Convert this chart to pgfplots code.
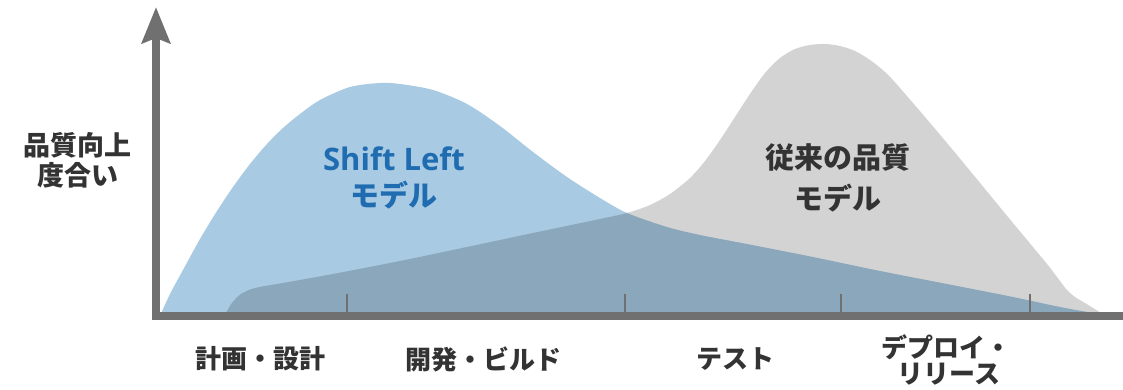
\documentclass[border=0pt]{standalone}
\usepackage{pgfplots}
\pgfplotsset{compat=1.18}
\usepackage{fontspec}
\setmainfont{Noto Sans CJK JP}
\newfontfamily\os{Open Sans}
\usetikzlibrary{arrows.meta}
\definecolor{lblue}{HTML}{A8CAE2}
\definecolor{lgray}{HTML}{D3D3D3}
\definecolor{axgray}{HTML}{707070}
\definecolor{tblue}{HTML}{1F6CB0}
\definecolor{tdark}{HTML}{333333}
\begin{document}
\begin{tikzpicture}
\begin{axis}[
  scale only axis, width=967pt, height=309pt,
  xmin=156, xmax=1123, ymin=0, ymax=309,
  axis lines=left, axis on top, clip=false,
  axis line style={line width=8pt, color=axgray},
  x axis line style={-, line cap=rect},
  y axis line style={line cap=rect, -{Stealth[length=36pt,width=28pt,inset=5pt]}},
  xtick={347,625,841,1030}, xticklabels={},
  ytick=\empty,
  tick align=inside, major tick length=22pt,
  every tick/.style={line width=2.2pt, color=axgray},
]
\addplot[fill=lgray, draw=none, smooth, tension=0.5] coordinates {
(224,0) (227,5) (232,13) (241,22) (255,28) (283,33) (333,42) (400,55) (467,69)
(533,83) (600,97) (627,103) (650,111) (670,122) (690,138) (705,155) (720,176)
(735,199) (750,222) (765,243) (780,258) (795,267) (810,271) (825,272) (840,270)
(855,265) (870,256) (885,244) (900,228) (947,173) (1013,93) (1047,52) (1060,35)
(1067,26) (1075,19) (1085,13) (1098,5) (1108,0)} \closedcycle;
\addplot[fill=lblue, draw=none, smooth, tension=0.5, blend mode=multiply] coordinates {
(160,0) (170,22) (183,46) (200,77) (217,105) (233,129) (250,152) (267,172) (283,188)
(300,202) (320,216) (350,229) (380,233) (400,232) (433,226) (467,212) (500,190)
(533,164) (567,139) (600,118) (627,103) (667,89) (700,81) (747,72) (813,59)
(880,45) (947,32) (1013,19) (1060,9) (1093,3) (1110,0)} \closedcycle;

\node[font=\fontsize{31}{36}\selectfont\os\bfseries, text=tblue] at (axis cs:394,157.5) {Shift Left};
\node[font=\fontsize{29}{34}\selectfont\bfseries, text=tblue] at (axis cs:394,121) {モデル};
\node[font=\fontsize{29}{34}\selectfont\bfseries, text=tdark] at (axis cs:838,158) {従来の品質};
\node[font=\fontsize{29}{34}\selectfont\bfseries, text=tdark] at (axis cs:838,117.5) {モデル};

\node[font=\fontsize{27}{30}\selectfont\bfseries, text=tdark] at (axis cs:78,171) {品質向上};
\node[font=\fontsize{27}{30}\selectfont\bfseries, text=tdark] at (axis cs:78,141) {度合い};

\node[font=\fontsize{26}{30}\selectfont\bfseries, text=tdark] at (axis cs:260,-43) {計画・設計};
\node[font=\fontsize{26}{30}\selectfont\bfseries, text=tdark] at (axis cs:483,-43) {開発・ビルド};
\node[font=\fontsize{26}{30}\selectfont\bfseries, text=tdark] at (axis cs:735,-43) {テスト};
\node[font=\fontsize{26}{30}\selectfont\bfseries, text=tdark] at (axis cs:946,-31) {デプロイ・};
\node[font=\fontsize{26}{30}\selectfont\bfseries, text=tdark] at (axis cs:949,-58) {リリース};

\coordinate (BL) at (axis cs:0,-74);
\coordinate (TR) at (axis cs:1123,316);
\end{axis}
\pgfresetboundingbox
\path[use as bounding box] (BL) rectangle (TR);
\end{tikzpicture}
\end{document}
